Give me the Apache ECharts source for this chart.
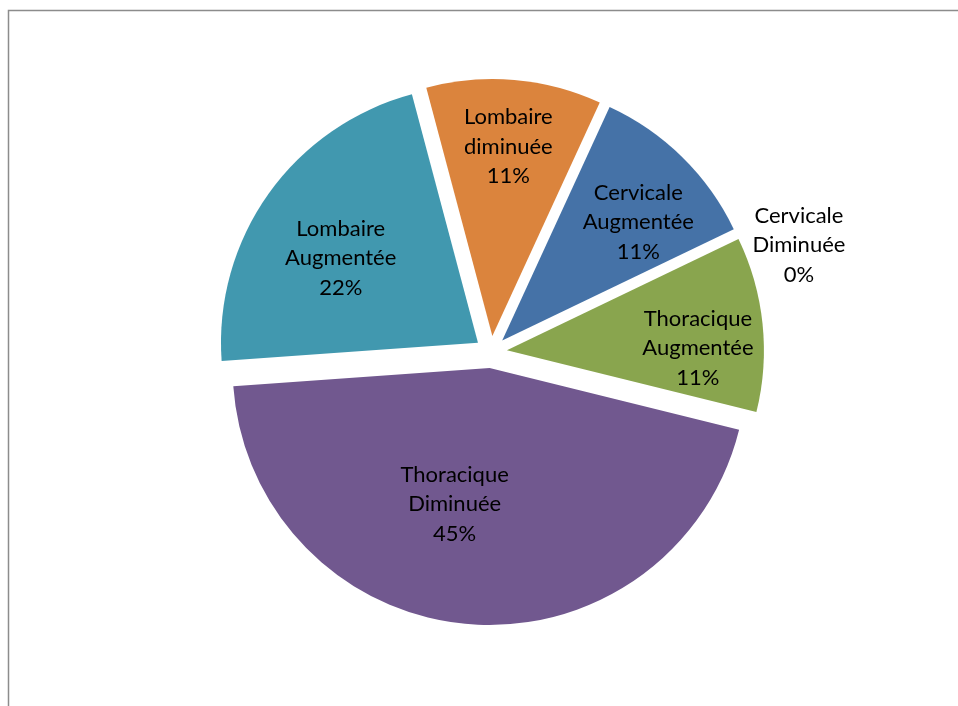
<!DOCTYPE html>
<html>
<head>
<meta charset="utf-8">
<script src="https://cdn.jsdelivr.net/npm/echarts@6/dist/echarts.min.js"></script>
<style>
  html, body { margin: 0; padding: 0; background: #ffffff; }
  #chart { width: 958px; height: 706px; }
</style>
</head>
<body>
<div id="chart"></div>
<script>
// Slices in drawing order, clockwise from the first slice
const categories = [
  'Cervicale Augmentée',
  'Cervicale Diminuée',
  'Thoracique Augmentée',
  'Thoracique Diminuée',
  'Lombaire Augmentée',
  'Lombaire diminuée'
];
const shares = [11, 0, 11, 45, 22, 11];
const sliceColors = ['#4572A7', '#AA4643', '#89A54E', '#71588F', '#4198AF', '#DB843D'];

// Small per-label shifts (px) so each label sits comfortably in its slice
const labelNudges = [[5, 15], [125, -19], [5, 17], [-19, -50], [15, 24], [0, -3]];

const chart = echarts.init(document.getElementById('chart'), null, { renderer: 'canvas' });

const pieCenter = [491, 352];
const firstAngle = 65.3;

const option = {
  animation: false,
  backgroundColor: '#ffffff',
  graphic: [{
    type: 'rect',
    silent: true,
    shape: { x: 8.5, y: 10.5, width: 2000, height: 2000 },
    style: { fill: 'none', stroke: '#8c8c8c', lineWidth: 1.5 }
  }],
  series: [
    {
      // exploded slices
      type: 'pie',
      center: pieCenter,
      radius: 257,
      startAngle: firstAngle,
      clockwise: true,
      selectedMode: 'multiple',
      selectedOffset: 16,
      silent: true,
      emphasis: { disabled: true },
      label: { show: false },
      labelLine: { show: false },
      itemStyle: { borderWidth: 0 },
      data: categories.map((name, i) => ({
        name: name,
        value: shares[i],
        selected: true,
        itemStyle: { color: sliceColors[i] },
        select: { itemStyle: { color: sliceColors[i] } }
      }))
    },
    {
      // labels
      type: 'pie',
      center: pieCenter,
      radius: [145, 255],
      startAngle: firstAngle,
      clockwise: true,
      silent: true,
      avoidLabelOverlap: false,
      emphasis: { disabled: true },
      itemStyle: { color: 'rgba(0,0,0,0)', borderWidth: 0 },
      labelLine: { show: false },
      label: {
        show: true,
        position: 'inside',
        color: '#000000',
        fontFamily: 'Lato',
        fontSize: 22,
        lineHeight: 29.5,
        align: 'center',
        formatter: p => p.name.replace(' ', '\n') + '\n' + p.value + '%'
      },
      labelLayout: p => ({ dx: labelNudges[p.dataIndex][0], dy: labelNudges[p.dataIndex][1] }),
      data: categories.map((name, i) => ({ name: name, value: shares[i] }))
    }
  ]
};

chart.setOption(option);
</script>
</body>
</html>
